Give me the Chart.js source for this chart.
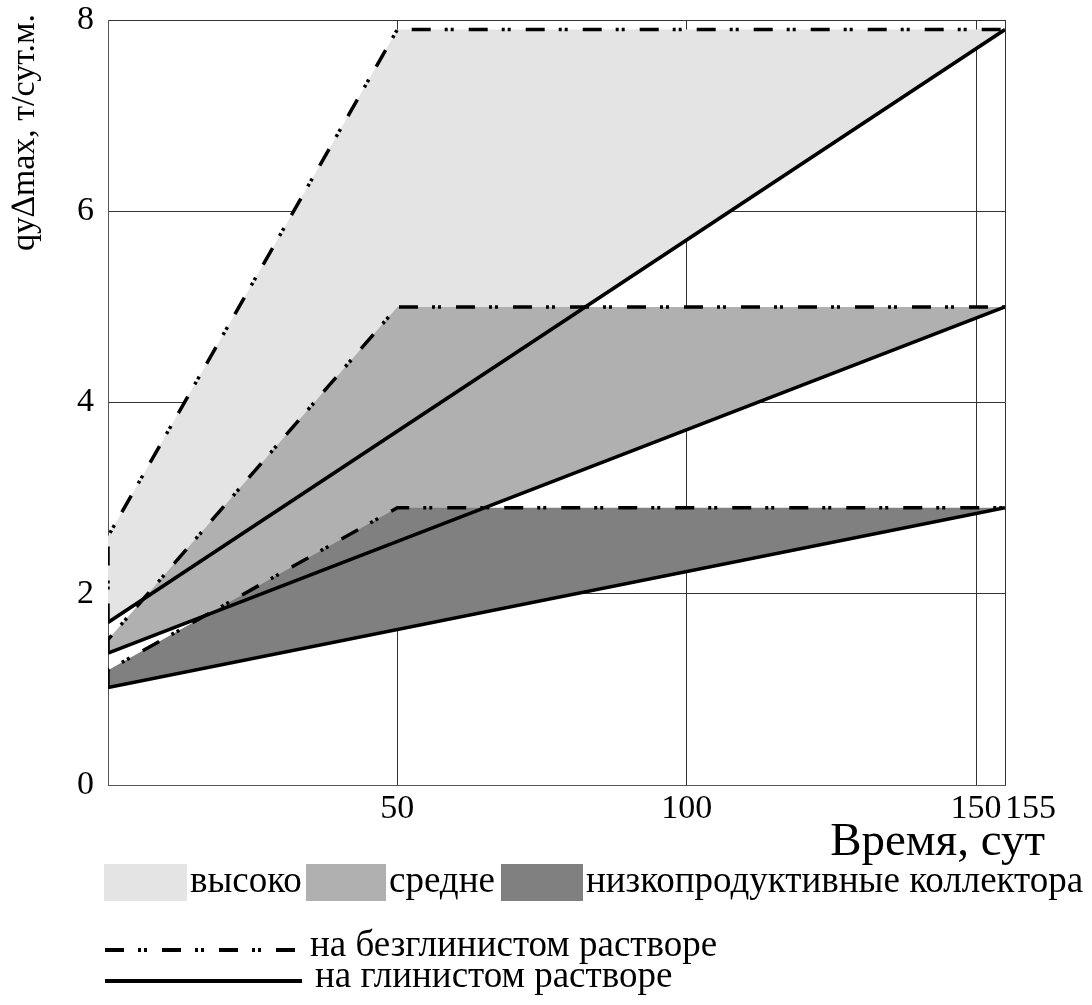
<!DOCTYPE html>
<html>
<head>
<meta charset="utf-8">
<script src="https://cdn.jsdelivr.net/npm/chart.js@4/dist/chart.umd.min.js"></script>
<style>
  body { margin: 0; background: #fff; }
</style>
</head>
<body>
<canvas id="myChart" width="1092" height="1005"></canvas>
<script>
// data
const dashX = [0, 0, 50, 155];
const highDashY = [1.7, 2.6, 7.9, 7.9];
const midDashY = [1.38, 1.52, 5.0, 5.0];
const lowDashY = [1.02, 1.2, 2.9, 2.9];

const solidX = [0, 155];
const highSolidY = [1.7, 7.9];
const midSolidY = [1.38, 5.0];
const lowSolidY = [1.02, 2.9];

const xTicks = [50, 100, 150, 155];
const yTicks = [0, 2, 4, 6, 8];

const yTitle = "qу∆max, т/сут.м.";
const xTitle = "Время, сут";
const areaLabels = ["высоко", "средне", "низкопродуктивные коллектора"];
const lineLabels = ["на безглинистом растворе", "на глинистом растворе"];

const lightGray = "#e4e4e4";
const midGray = "#b0b0b0";
const darkGray = "#808080";
const dashPattern = [19, 14, 3, 3, 3, 15];
const serif = '"Liberation Serif", "Times New Roman", serif';

function pts(xs, ys) {
  return xs.map((x, i) => ({ x: x, y: ys[i] }));
}

function dashSet(ys, color) {
  return {
    data: pts(dashX, ys),
    borderColor: "#000",
    borderWidth: 3.5,
    borderDash: dashPattern,
    backgroundColor: color,
    fill: "+1",
    pointRadius: 0,
    tension: 0,
  };
}

function solidSet(ys) {
  return {
    data: pts(solidX, ys),
    borderColor: "#000",
    borderWidth: 3.5,
    fill: false,
    pointRadius: 0,
    tension: 0,
  };
}

// axis titles and the legend, drawn on the canvas
const extraText = {
  id: "extraText",
  afterDraw(chart) {
    const ctx = chart.ctx;
    ctx.save();
    ctx.fillStyle = "#000";
    ctx.textBaseline = "alphabetic";

    // y title, rotated
    ctx.save();
    ctx.translate(34, 14);
    ctx.rotate(-Math.PI / 2);
    ctx.textAlign = "right";
    ctx.font = "34px " + serif;
    ctx.fillText(yTitle, 0, 0);
    ctx.restore();

    // x title
    ctx.textAlign = "right";
    ctx.font = "47px " + serif;
    ctx.fillText(xTitle, 1045, 855);

    // area legend
    const boxes = [[104, 187, lightGray], [306, 386, midGray], [501, 583, darkGray]];
    ctx.textAlign = "left";
    ctx.font = "37px " + serif;
    boxes.forEach((b, i) => {
      ctx.fillStyle = b[2];
      ctx.fillRect(b[0], 864, b[1] - b[0], 37);
      ctx.fillStyle = "#000";
      ctx.fillText(areaLabels[i], b[1] + 3, 892);
    });

    // line legend
    ctx.strokeStyle = "#000";
    ctx.lineWidth = 4;
    ctx.setLineDash(dashPattern);
    ctx.beginPath();
    ctx.moveTo(105, 950);
    ctx.lineTo(295, 950);
    ctx.stroke();
    ctx.setLineDash([]);
    ctx.beginPath();
    ctx.moveTo(105, 981);
    ctx.lineTo(302, 981);
    ctx.stroke();
    ctx.fillText(lineLabels[0], 310, 956);
    ctx.fillText(lineLabels[1], 315, 987);

    ctx.restore();
  },
};

const ctx = document.getElementById("myChart").getContext("2d");

const myChart = new Chart(ctx, {
  type: "line",
  data: {
    datasets: [
      dashSet(lowDashY, darkGray),
      solidSet(lowSolidY),
      dashSet(midDashY, midGray),
      solidSet(midSolidY),
      dashSet(highDashY, lightGray),
      solidSet(highSolidY),
    ],
  },
  options: {
    responsive: false,
    animation: false,
    layout: {
      padding: { top: 20, right: 87, left: 0, bottom: 0 },
    },
    plugins: {
      legend: { display: false },
      tooltip: { enabled: false },
      filler: { drawTime: "beforeDatasetsDraw" },
    },
    scales: {
      x: {
        type: "linear",
        min: 0,
        max: 155,
        afterBuildTicks: (scale) => {
          scale.ticks = xTicks.map((v) => ({ value: v }));
        },
        afterFit: (scale) => {
          scale.height = 220;
        },
        ticks: {
          autoSkip: false,
          maxRotation: 0,
          padding: 4,
          color: "#000",
          font: { family: serif, size: 34 },
          // last label sits to the right of its line in the original
          callback: (v) => (v === 155 ? "\u2002\u2002\u2002" + v : v),
        },
        grid: { color: "#333", lineWidth: 1, drawTicks: false },
        border: { color: "#555", width: 1 },
      },
      y: {
        min: 0,
        max: 8,
        afterBuildTicks: (scale) => {
          scale.ticks = yTicks.map((v) => ({ value: v }));
        },
        afterFit: (scale) => {
          scale.width = 108;
          // keep the label overhang from pushing the plot top down
          scale.paddingTop = 0;
          scale.paddingBottom = 0;
        },
        ticks: {
          padding: 14,
          color: "#000",
          font: { family: serif, size: 34 },
        },
        grid: { color: "#333", lineWidth: 1, drawTicks: false },
        border: { color: "#555", width: 1 },
      },
    },
  },
  plugins: [extraText],
});
</script>
</body>
</html>
